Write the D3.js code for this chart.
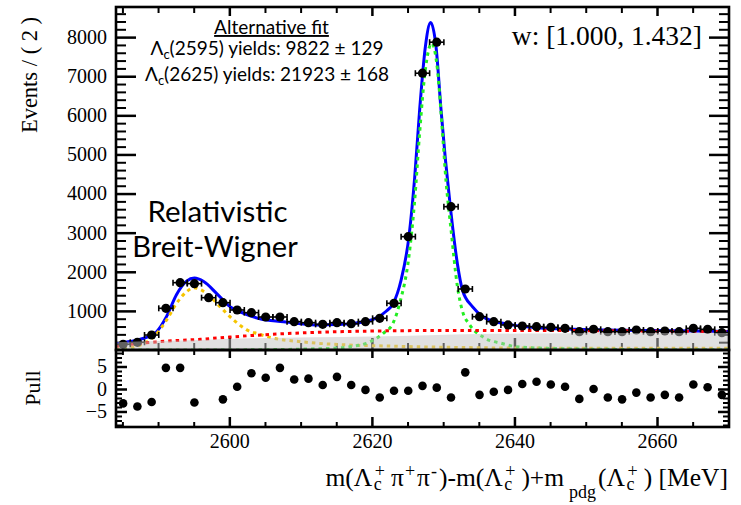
<!DOCTYPE html>
<html><head><meta charset="utf-8">
<script src="https://cdn.jsdelivr.net/npm/d3@7"></script>
<style>body{margin:0;background:#fff}svg{display:block}</style>
</head><body>
<script>
// ---------------- data ----------------
const binCenters = [2585.1,2587.1,2589.1,2591.1,2593.1,2595.1,2597.1,2599.1,2601.1,2603.1,
  2605.1,2607.1,2609.1,2611.1,2613.1,2615.1,2617.1,2619.1,2621.1,2623.1,
  2625.1,2627.1,2629.1,2631.1,2633.1,2635.1,2637.1,2639.1,2641.1,2643.1,
  2645.1,2647.1,2649.1,2651.1,2653.1,2655.1,2657.1,2659.1,2661.1,2663.1,
  2665.1,2667.1,2669.1];
const counts = [146,197,383,1066,1722,1697,1338,1210,1023,955,
  844,844,725,699,656,699,673,725,810,1194,
  2898,7077,7870,3665,1560,852,725,640,614,597,
  580,554,469,529,469,469,511,469,486,469,
  554,529,443];
const pulls = [-3.2,-3.9,-2.9,4.7,4.7,-3.0,null,-2.3,0.5,3.5,
  2.5,4.7,2.1,2.3,0.9,2.7,0.9,-0.2,-1.9,-0.4,
  -0.4,0.7,0.3,-1.9,3.7,-1.3,-0.6,-0.2,1.1,1.6,
  1.0,0.5,-2.2,0.0,-1.9,-2.3,-0.8,-1.9,-1.3,-1.9,
  1.0,0.4,-1.3];
// fit curves sampled from the figure: [mass, events]
const totalFit = [[2584.1,150],[2586,215],[2588,300],[2589.8,468],[2591.2,860],[2592.6,1420],[2594.0,1760],
  [2595.1,1840],[2596.4,1750],[2598.2,1450],[2600.1,1108],[2602.0,938],[2604.3,800],[2607.6,724],
  [2610,670],[2612.2,640],[2615,650],[2616.9,668],[2619,730],[2620.6,815],[2622,990],[2623.0,1194],
  [2624.1,1790],[2625.2,2898],[2626.0,4400],[2626.7,6138],[2627.5,7750],[2628.25,8371],[2629.0,7750],
  [2629.7,6138],[2630.3,4900],[2631.0,3665],[2632.0,2200],[2632.7,1535],[2634.1,1108],[2635.6,852],
  [2636.5,767],[2638.4,682],[2640,630],[2643.1,571],[2647,540],[2652.4,513],[2660,497],[2670.1,475]];
const lc2625 = [[2584.1,0],[2600,2],[2608,15],[2612,30],[2614.6,45],[2616.9,84],[2619.2,171],[2621.6,427],
  [2623.0,700],[2623.9,1194],[2625.2,2400],[2626.0,3820],[2626.7,5560],[2627.5,7170],[2628.4,7844],
  [2629.2,7170],[2629.9,5560],[2630.4,4320],[2631.1,3085],[2632.0,1620],[2632.7,1000],[2633.7,650],
  [2635.6,330],[2638.4,160],[2640,90],[2645,40],[2655,15],[2670.1,5]];
const lc2595 = [[2584.1,20],[2586,55],[2587.5,128],[2589.4,340],[2591.2,767],[2592.6,1194],[2594.0,1491],
  [2595.0,1590],[2596.2,1520],[2597.5,1330],[2598.7,1108],[2600.6,767],[2602.4,520],[2604.3,400],
  [2606,310],[2610,212],[2614.6,146],[2618,120],[2621.6,105],[2626,84],[2632,65],[2640,50],
  [2655,45],[2670.1,43]];
const bkgTotal = [[2584.1,90],[2586,140],[2589,195],[2592,235],[2596,275],[2600,330],[2604,380],[2608,420],
  [2612,450],[2616,470],[2620,485],[2625,495],[2630,500],[2640,500],[2650,495],[2660,485],[2670.1,470]];
const bkgShaded = [[2584.1,200],[2590,230],[2596,256],[2603,299],[2612,325],[2620,345],[2628,380],
  [2635,410],[2645,425],[2655,432],[2670.1,435]];
const xMajor = [2600,2620,2640,2660];
const xMinor = [2585,2590,2595,2605,2610,2615,2625,2630,2635,2645,2650,2655,2665];
const yMajor = [1000,2000,3000,4000,5000,6000,7000,8000];
const pullMajor = [-5,0,5];
const fitTitle = "Alternative fit";
const yieldLines = [["2595","9822 \u00b1 129"],["2625","21923 \u00b1 168"]];
const rangeLabel = "w: [1.000, 1.432]";

// ---------------- layout ----------------
const W = 741, H = 505;
const L = 116, R = 729, T = 7, MB = 350, PB = 427;
const serif = "'Liberation Serif', 'Times New Roman', serif";
const sans = "Lato, 'Open Sans', sans-serif";

const svg = d3.select("body").append("svg").attr("width", W).attr("height", H);
const x = d3.scaleLinear().domain([2584.1, 2670.1]).range([L, R]);
const y = d3.scaleLinear().domain([0, 8770]).range([MB, T]);
const yp = d3.scaleLinear().domain([-8.45, 8.67]).range([PB, MB]);

const defs = svg.append("defs");
defs.append("clipPath").attr("id","cm").append("rect").attr("x",L).attr("y",T).attr("width",R-L).attr("height",MB-T);
defs.append("clipPath").attr("id","cp").append("rect").attr("x",L).attr("y",MB).attr("width",R-L).attr("height",PB-MB);

const yMinor = d3.range(200, 8770, 200).filter(v => v % 1000 !== 0);
const pullMinor = d3.range(-8, 9, 1).filter(v => v % 5 !== 0);

function ticks(g, axis, sw, color) {
  g.call(axis);
  g.select(".domain").remove();
  g.selectAll(".tick line").attr("stroke", color || "#000").attr("stroke-width", sw);
  g.selectAll("text").attr("font-family", serif).attr("font-size", "20px").attr("fill","#000");
}
// ---- main panel axes ----
const axesMain = svg.append("g");
ticks(axesMain.append("g").attr("transform",`translate(${L},0)`), d3.axisLeft(y).tickValues(yMajor).tickSize(-20).tickPadding(9).tickFormat(d3.format("d")), 2.5);
ticks(axesMain.append("g").attr("transform",`translate(${L},0)`), d3.axisLeft(y).tickValues(yMinor).tickSize(-10).tickFormat(""), 2);
ticks(axesMain.append("g").attr("transform",`translate(${R},0)`), d3.axisRight(y).tickValues(yMajor).tickSize(-20).tickFormat(""), 2.5);
ticks(axesMain.append("g").attr("transform",`translate(${R},0)`), d3.axisRight(y).tickValues(yMinor).tickSize(-10).tickFormat(""), 2);
ticks(axesMain.append("g").attr("transform",`translate(0,${T})`), d3.axisTop(x).tickValues(xMajor).tickSize(-9).tickFormat(""), 2.5);
ticks(axesMain.append("g").attr("transform",`translate(0,${T})`), d3.axisTop(x).tickValues(xMinor).tickSize(-6).tickFormat(""), 2);
ticks(axesMain.append("g").attr("transform",`translate(0,${MB})`), d3.axisBottom(x).tickValues(xMajor).tickSize(-12).tickFormat(""), 2.5);
ticks(axesMain.append("g").attr("transform",`translate(0,${MB})`), d3.axisBottom(x).tickValues(xMinor).tickSize(-7).tickFormat(""), 2);

// ---- curves ----
const line = d3.line().x(d => x(d[0])).y(d => y(d[1])).curve(d3.curveMonotoneX);
const plot = svg.append("g").attr("clip-path","url(#cm)");
plot.append("path").datum(totalFit).attr("d", line).attr("fill","none").attr("stroke","#0000ff").attr("stroke-width",3);
plot.append("path").datum(lc2595).attr("d", line).attr("fill","none").attr("stroke","#f5c400").attr("stroke-width",3).attr("stroke-dasharray","3.5,4");
plot.append("path").datum(lc2625).attr("d", line).attr("fill","none").attr("stroke","#22ee22").attr("stroke-width",3).attr("stroke-dasharray","3.5,4");
plot.append("path").datum(bkgTotal).attr("d", line).attr("fill","none").attr("stroke","#ff0000").attr("stroke-width",3).attr("stroke-dasharray","3.5,4");

// ---- data points ----
const pts = binCenters.map((c, i) => ({c, n: counts[i], p: pulls[i]}));
const dg = plot.append("g");
pts.forEach(d => {
  const cy = y(d.n), e = Math.sqrt(d.n);
  dg.append("line").attr("x1", x(d.c - 1)).attr("x2", x(d.c + 1)).attr("y1", cy).attr("y2", cy).attr("stroke","#000").attr("stroke-width",1.6);
  [d.c - 1, d.c + 1].forEach(v => dg.append("line").attr("x1", x(v)).attr("x2", x(v)).attr("y1", cy - 3).attr("y2", cy + 3).attr("stroke","#000").attr("stroke-width",1.6));
  dg.append("line").attr("x1", x(d.c)).attr("x2", x(d.c)).attr("y1", y(d.n - e)).attr("y2", y(d.n + e)).attr("stroke","#000").attr("stroke-width",1.6);
  dg.append("circle").attr("cx", x(d.c)).attr("cy", cy).attr("r", 4.6).attr("fill","#000");
});

// ---- shaded background component (semi-transparent, on top) ----
const area = d3.area().x(d => x(d[0])).y0(y(0)).y1(d => y(d[1])).curve(d3.curveMonotoneX);
plot.append("path").datum(bkgShaded).attr("d", area).attr("fill","#c2c2c2").attr("fill-opacity",0.5);

// ---- pull panel ----
const axesPull = svg.append("g");
ticks(axesPull.append("g").attr("transform",`translate(${L},0)`), d3.axisLeft(yp).tickValues(pullMajor).tickSize(-11).tickPadding(9).tickFormat(d3.format("d")), 2.5);
ticks(axesPull.append("g").attr("transform",`translate(${L},0)`), d3.axisLeft(yp).tickValues(pullMinor).tickSize(-6).tickFormat(""), 2);
ticks(axesPull.append("g").attr("transform",`translate(${R},0)`), d3.axisRight(yp).tickValues(pullMajor).tickSize(-11).tickFormat(""), 2.5);
ticks(axesPull.append("g").attr("transform",`translate(${R},0)`), d3.axisRight(yp).tickValues(pullMinor).tickSize(-6).tickFormat(""), 2);
ticks(axesPull.append("g").attr("transform",`translate(0,${MB})`), d3.axisTop(x).tickValues(xMajor).tickSize(-8).tickFormat(""), 2.5);
ticks(axesPull.append("g").attr("transform",`translate(0,${MB})`), d3.axisTop(x).tickValues(xMinor).tickSize(-5).tickFormat(""), 2);
ticks(axesPull.append("g").attr("transform",`translate(0,${PB})`), d3.axisBottom(x).tickValues(xMajor).tickSize(-10).tickPadding(7).tickFormat(d3.format("d")), 2.5);
ticks(axesPull.append("g").attr("transform",`translate(0,${PB})`), d3.axisBottom(x).tickValues(xMinor).tickSize(-5).tickFormat(""), 2);

svg.append("g").attr("clip-path","url(#cp)").selectAll("circle")
  .data(pts.filter(d => d.p !== null)).join("circle")
  .attr("cx", d => x(d.c)).attr("cy", d => yp(d.p)).attr("r", 4.3).attr("fill","#000");

// ---- frames ----
svg.append("rect").attr("x",L).attr("y",T).attr("width",R-L).attr("height",MB-T).attr("fill","none").attr("stroke","#000").attr("stroke-width",2.6);
svg.append("rect").attr("x",L).attr("y",MB).attr("width",R-L).attr("height",PB-MB).attr("fill","none").attr("stroke","#000").attr("stroke-width",2.6);

// ---- texts ----
svg.append("text").attr("transform","translate(37,75) rotate(-90)").attr("text-anchor","middle")
  .attr("font-family",serif).attr("font-size","22.5px").text("Events / ( 2 )");
svg.append("text").attr("transform","translate(40,388) rotate(-90)").attr("text-anchor","middle")
  .attr("font-family",serif).attr("font-size","22px").text("Pull");

svg.append("text").attr("x",702).attr("y",45).attr("text-anchor","end")
  .attr("font-family",serif).attr("font-size","27.5px").text(rangeLabel);

svg.append("text").attr("x",271.5).attr("y",34).attr("text-anchor","middle")
  .attr("font-family",sans).attr("font-size","19px").style("text-decoration","underline").text(fitTitle);
yieldLines.forEach((yl, i) => {
  const t = svg.append("text").attr("x",267).attr("y",55 + i*25.5).attr("text-anchor","middle")
    .attr("font-family",sans).attr("font-size","19px");
  t.append("tspan").text("\u039b");
  t.append("tspan").attr("font-size","13px").attr("dy",4).text("c");
  t.append("tspan").attr("dy",-4).text(`(${yl[0]}) yields: ${yl[1]}`);
});

svg.append("text").attr("x",217.5).attr("y",221.5).attr("text-anchor","middle")
  .attr("font-family",sans).attr("font-size","29.5px").text("Relativistic");
svg.append("text").attr("x",215).attr("y",257).attr("text-anchor","middle")
  .attr("font-family",sans).attr("font-size","29px").text("Breit-Wigner");

// x-axis title with sub/superscripts
const xt = svg.append("text").attr("x",728).attr("y",486).attr("text-anchor","end")
  .attr("font-family",serif).attr("font-size","25.5px");
let cur = 0;
function part(txt, shift, size, dx) {
  const s = xt.append("tspan").attr("dy", shift - cur).text(txt);
  if (size) s.attr("font-size", size + "px");
  if (dx) s.attr("dx", dx);
  cur = shift;
}
function lamC() { part("c", 4, 18, 1.5); part("+", -9, 18, -7); }
part("m(\u039b", 0); lamC();
part("\u03c0", 0, null, 6); part("+", -9, 18, 1);
part("\u03c0", 0, null, 2); part("-", -9, 18, 1);
part(")-m(\u039b", 0, null, 2); lamC();
part(")+m", 0, null, 6); part("pdg", 12, 18, 5);
part("(\u039b", 0, null, 2); lamC();
part(")", 0, null, 6);
part(" [MeV]", 0);
</script>
</body></html>
